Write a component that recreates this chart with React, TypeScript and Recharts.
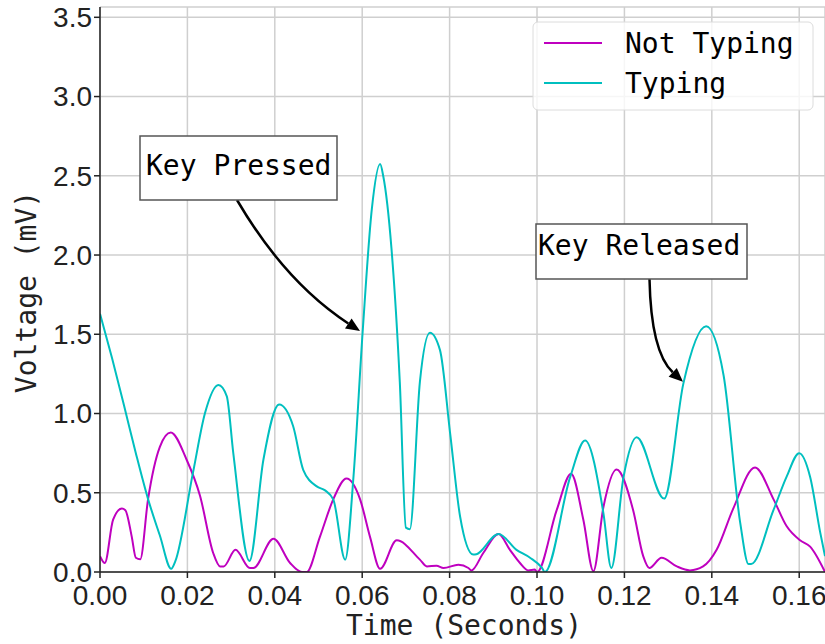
import { CartesianGrid, Line, LineChart, XAxis, YAxis } from "recharts";

// Time (s) / voltage (mV) samples
const notTypingTime = [
  0, 0.0011, 0.003, 0.005, 0.0058, 0.00725, 0.0082, 0.0092, 0.011, 0.0137, 0.0162, 0.0198, 0.0229,
  0.0259, 0.0275, 0.0283, 0.031, 0.0343, 0.0351, 0.0397, 0.0435, 0.0462, 0.0473, 0.0503, 0.0534,
  0.0564, 0.0595, 0.0618, 0.0641, 0.0679, 0.0732, 0.0748, 0.077, 0.0786, 0.082, 0.0843, 0.085,
  0.0877, 0.0912, 0.0938, 0.0961, 0.098, 0.0995, 0.1, 0.1045, 0.1078, 0.1106, 0.1129, 0.1152,
  0.1182, 0.122, 0.1243, 0.1257, 0.1285, 0.132, 0.135, 0.138, 0.1411, 0.1449, 0.1499, 0.1541,
  0.1571, 0.1602, 0.1625, 0.1659,
];
const notTypingVoltage = [
  0.1, 0.057, 0.33, 0.4, 0.39, 0.225, 0.09, 0.08, 0.46, 0.79, 0.88, 0.71, 0.48,
  0.12, 0.035, 0.035, 0.14, 0.025, 0.025, 0.21, 0.057, 0.0, 0.0, 0.22, 0.46,
  0.59, 0.46, 0.22, 0.02, 0.2, 0.078, 0.035, 0.04, 0.025, 0.046, 0.025, 0.01,
  0.12, 0.24, 0.14, 0.057, 0.01, 0.015, 0.0, 0.39, 0.62, 0.33, 0.005, 0.41,
  0.646, 0.39, 0.1, 0.025, 0.09, 0.035, 0.01, 0.035, 0.14, 0.4, 0.66, 0.46,
  0.29, 0.2, 0.16, 0.0,
];
const typingTime = [
  0, 0.00275, 0.0055, 0.0082, 0.011, 0.0137, 0.0163, 0.0172, 0.0213, 0.024, 0.0271, 0.029, 0.0305,
  0.0342, 0.0374, 0.041, 0.0442, 0.0465, 0.0496, 0.0515, 0.0534, 0.0561, 0.058, 0.0601, 0.0622,
  0.0641, 0.0648, 0.0667, 0.0686, 0.07, 0.0709, 0.0732, 0.0755, 0.0778, 0.0801, 0.0824, 0.0854,
  0.0858, 0.0912, 0.0953, 0.0984, 0.1011, 0.1018, 0.1076, 0.111, 0.1152, 0.117, 0.1198, 0.1228,
  0.1291, 0.1335, 0.1387, 0.1427, 0.1465, 0.1484, 0.149, 0.1541, 0.1571, 0.16, 0.1625, 0.1648,
  0.1659,
];
const typingVoltage = [
  1.63, 1.35, 1.05, 0.75, 0.46, 0.23, 0.02, 0.065, 0.63, 1.0, 1.18, 1.11, 0.75,
  0.07, 0.71, 1.057, 0.92, 0.645, 0.54, 0.515, 0.457, 0.078, 0.6, 1.514, 2.29,
  2.574, 2.5, 2.04, 1.2, 0.28, 0.27, 1.2, 1.51, 1.4, 0.88, 0.35, 0.11,
  0.11, 0.24, 0.14, 0.09, 0.027, 0.0, 0.6, 0.83, 0.37, 0.025, 0.6, 0.85,
  0.463, 1.19, 1.55, 1.24, 0.31, 0.05, 0.05, 0.39, 0.6, 0.75, 0.6, 0.25,
  0.1,
];
const xTicks = [0, 0.02, 0.04, 0.06, 0.08, 0.1, 0.12, 0.14, 0.16];
const yTicks = [0, 0.5, 1, 1.5, 2, 2.5, 3, 3.5];

const W = 825;
const H = 644;
const LEFT = 100;
const TOP = 7;
const BOTTOM = 72;
const X_MAX = 0.1659;
const Y_MAX = 3.565;

const MAGENTA = "#bf00bf";
const CYAN = "#00bfbf";
const MONO = "'DejaVu Sans Mono', monospace";
const SANS = "'Liberation Sans', Arial, sans-serif";

const notTyping = notTypingTime.map((t, i) => ({ t, v: notTypingVoltage[i] }));
const typing = typingTime.map((t, i) => ({ t, v: typingVoltage[i] }));

// same mapping as the chart's scales, used only to aim the annotation arrows
const sx = (t: number) => LEFT + (t / X_MAX) * (W - LEFT);
const sy = (v: number) => TOP + (1 - v / Y_MAX) * (H - TOP - BOTTOM);

function Arrow({ from, ctrl, tip }: { from: [number, number]; ctrl: [number, number]; tip: [number, number] }) {
  const dx = tip[0] - ctrl[0];
  const dy = tip[1] - ctrl[1];
  const len = Math.hypot(dx, dy);
  const ux = dx / len;
  const uy = dy / len;
  const bx = tip[0] - ux * 14;
  const by = tip[1] - uy * 14;
  const px = -uy * 6;
  const py = ux * 6;
  return (
    <g>
      <path
        d={`M${from[0]},${from[1]} Q${ctrl[0]},${ctrl[1]} ${bx},${by}`}
        fill="none"
        stroke="#000"
        strokeWidth={2.5}
      />
      <polygon points={`${tip[0]},${tip[1]} ${bx + px},${by + py} ${bx - px},${by - py}`} fill="#000" />
    </g>
  );
}

export default function App() {
  const pressTip: [number, number] = [sx(0.0595), sy(1.52)];
  const releaseTip: [number, number] = [sx(0.1334), sy(1.2)];
  return (
    <div style={{ position: "absolute", left: 0, top: 0, width: W, height: H, background: "#fff" }}>
      <LineChart width={W} height={H} margin={{ top: TOP, right: 0, bottom: 0, left: 0 }}>
        <CartesianGrid stroke="#cfcfcf" strokeWidth={1.5} />
        <XAxis
          dataKey="t"
          type="number"
          domain={[0, X_MAX]}
          ticks={xTicks}
          interval={0}
          allowDataOverflow
          height={BOTTOM}
          tickFormatter={(v: number) => v.toFixed(2)}
          tick={{ fontSize: 28, fontFamily: SANS, fill: "#222" }}
          tickSize={6}
          tickMargin={7}
          axisLine={{ stroke: "#222", strokeWidth: 1.5 }}
          tickLine={{ stroke: "#222", strokeWidth: 1.5 }}
        />
        <YAxis
          type="number"
          domain={[0, Y_MAX]}
          ticks={yTicks}
          interval={0}
          allowDataOverflow
          width={LEFT}
          tickFormatter={(v: number) => v.toFixed(1)}
          tick={{ fontSize: 28, fontFamily: SANS, fill: "#222" }}
          tickSize={6}
          tickMargin={2}
          axisLine={{ stroke: "#222", strokeWidth: 1.5 }}
          tickLine={{ stroke: "#222", strokeWidth: 1.5 }}
        />
        <Line
          data={notTyping}
          dataKey="v"
          type="monotone"
          stroke={MAGENTA}
          strokeWidth={2}
          dot={false}
          isAnimationActive={false}
        />
        <Line
          data={typing}
          dataKey="v"
          type="monotone"
          stroke={CYAN}
          strokeWidth={2}
          dot={false}
          isAnimationActive={false}
        />
      </LineChart>
      <svg
        width={W}
        height={H}
        style={{ position: "absolute", left: 0, top: 0, pointerEvents: "none" }}
      >
        {/* legend */}
        <rect x={533} y={22} width={280} height={88} rx={5} fill="#fff" fillOpacity={0.8} stroke="#dcdcdc" />
        <line x1={544} x2={602} y1={43} y2={43} stroke={MAGENTA} strokeWidth={2} />
        <line x1={544} x2={602} y1={83} y2={83} stroke={CYAN} strokeWidth={2} />
        <text x={625} y={53} fontFamily={MONO} fontSize={28} fill="#000">Not Typing</text>
        <text x={625} y={93} fontFamily={MONO} fontSize={28} fill="#000">Typing</text>

        {/* annotations */}
        <Arrow from={[237, 200]} ctrl={[285, 282]} tip={pressTip} />
        <rect x={140} y={136} width={197} height={64} fill="#fff" stroke="#555" strokeWidth={1.5} />
        <text x={146} y={175} fontFamily={MONO} fontSize={28} fill="#000">Key Pressed</text>

        <Arrow from={[649.5, 279]} ctrl={[651, 352]} tip={releaseTip} />
        <rect x={536} y={224} width={211} height={55} fill="#fff" stroke="#555" strokeWidth={1.5} />
        <text x={538} y={255} fontFamily={MONO} fontSize={28} fill="#000">Key Released</text>

        {/* axis titles */}
        <text x={464} y={635} textAnchor="middle" fontFamily={MONO} fontSize={28} fill="#222">
          Time (Seconds)
        </text>
        <text
          x={0}
          y={0}
          transform="translate(36,292) rotate(-90)"
          textAnchor="middle"
          fontFamily={MONO}
          fontSize={28}
          fill="#222"
        >
          Voltage (mV)
        </text>
      </svg>
    </div>
  );
}
